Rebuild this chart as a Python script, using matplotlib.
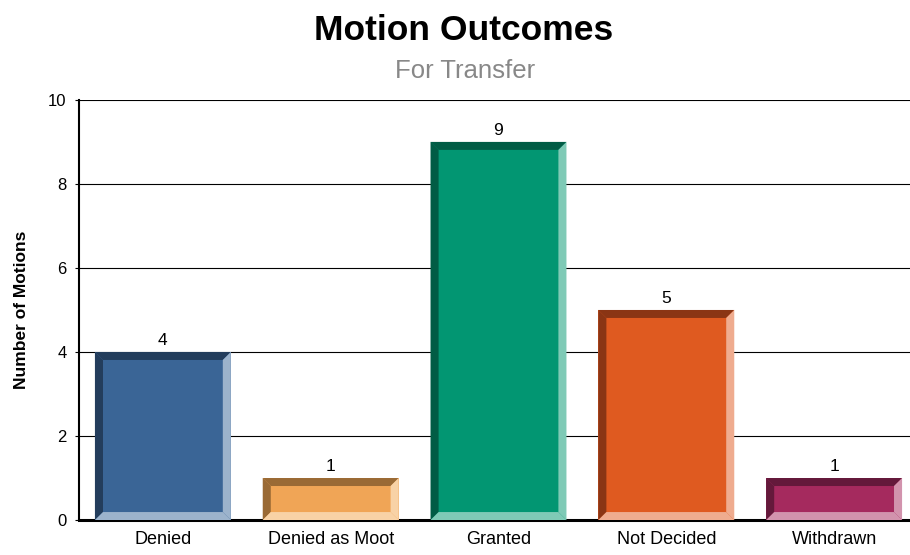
import matplotlib.pyplot as plt
import matplotlib
from matplotlib.patches import Polygon

matplotlib.rcParams['font.family'] = ['Liberation Sans', 'DejaVu Sans']

categories = ['Denied', 'Denied as Moot', 'Granted', 'Not Decided', 'Withdrawn']
counts = [4, 1, 9, 5, 1]
face_colors = ['#3a6596', '#f0a556', '#029672', '#df5a20', '#a52a5e']
dark_colors = ['#233d5c', '#9a6a35', '#015c45', '#8a3514', '#64193b']
light_colors = ['#9cb3cc', '#f8d2a6', '#7fcab6', '#efac8f', '#d293ad']

fig = plt.figure(figsize=(9.1, 5.55), dpi=100)
ax = fig.add_axes([0.0868, 0.063, 0.922, 0.757])

x = list(range(len(categories)))
width = 0.81
bars = ax.bar(x, counts, width=width, color=face_colors, zorder=3)

ax.set_xlim(-0.5, len(categories) - 0.5)
ax.set_ylim(0, 10)

# bevel size in data units (~8 px)
bx = 0.048
by = 0.19
for bar, dk, lt in zip(bars, dark_colors, light_colors):
    x0 = bar.get_x()
    x1 = x0 + bar.get_width()
    h = bar.get_height()
    # top and left: dark
    ax.add_patch(Polygon([(x0, h), (x1, h), (x1 - bx, h - by), (x0 + bx, h - by)],
                         closed=True, color=dk, lw=0, zorder=4))
    ax.add_patch(Polygon([(x0, 0), (x0, h), (x0 + bx, h - by), (x0 + bx, by)],
                         closed=True, color=dk, lw=0, zorder=4))
    # right and bottom: light
    ax.add_patch(Polygon([(x1, h), (x1, 0), (x1 - bx, by), (x1 - bx, h - by)],
                         closed=True, color=lt, lw=0, zorder=4))
    ax.add_patch(Polygon([(x0, 0), (x1, 0), (x1 - bx, by), (x0 + bx, by)],
                         closed=True, color=lt, lw=0, zorder=4))
    ax.text(bar.get_x() + bar.get_width() / 2, h + 0.1, f'{h:g}',
            ha='center', va='bottom', fontsize=12.5, color='black', zorder=5)

ax.set_xticks(x)
ax.set_xticklabels(categories, fontsize=13)
ax.set_yticks([0, 2, 4, 6, 8, 10])
ax.tick_params(axis='x', length=0, pad=8)
ax.tick_params(axis='y', length=3, width=0.8, labelsize=12, pad=6)
ax.grid(axis='y', color='black', linewidth=0.8, zorder=0)
ax.set_axisbelow(True)

ax.spines['top'].set_visible(False)
ax.spines['right'].set_visible(False)
ax.spines['left'].set_linewidth(1.5)
ax.spines['bottom'].set_linewidth(2.2)

ax.set_ylabel('Number of Motions', fontsize=12.5, fontweight='bold', labelpad=14)

fig.text(0.51, 0.945, 'Motion Outcomes', ha='center', va='center',
         fontsize=25.5, fontweight='bold')
fig.text(0.5115, 0.872, 'For Transfer', ha='center', va='center',
         fontsize=18.5, color='#888888')

plt.savefig('out.png', dpi=100, facecolor='white')
plt.close()
